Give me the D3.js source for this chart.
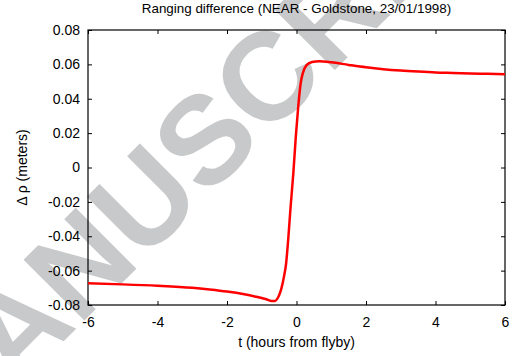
<!DOCTYPE html>
<head>
    <meta charset="utf-8">
    <title>Ranging difference</title>
    <style>
        body { margin: 0; background: #fff; }
        text { font-family: "Liberation Sans", Arial, sans-serif; }
    </style>
</head>
<body>
    <script src="https://d3js.org/d3.v7.min.js"></script>
    <script>

        // t in hours from flyby, delta rho in metres
        var hours = [-6, -5, -4, -3, -2.5, -2, -1.5, -1.2, -1, -0.85, -0.72, -0.62, -0.52, -0.44,
            -0.36, -0.3, -0.24, -0.17, -0.09, -0.02, 0.05, 0.12, 0.18, 0.29, 0.45, 0.65,
            1, 1.5, 2, 2.5, 3, 3.5, 4, 4.5, 5, 5.5, 6];
        var deltaRho = [-0.0674, -0.0680, -0.0688, -0.0700, -0.0710, -0.0722, -0.0738, -0.0750,
            -0.0759, -0.0768, -0.0776, -0.0776, -0.0752, -0.0708, -0.0635, -0.0560, -0.0422,
            -0.0230, -0.0030, 0.0180, 0.0354, 0.0490, 0.0548, 0.0596, 0.0614, 0.0618,
            0.0612, 0.0597, 0.0583, 0.0572, 0.0564, 0.0558, 0.0553, 0.0550, 0.0547, 0.0545, 0.0543];
        var xTicks = [-6, -4, -2, 0, 2, 4, 6];
        var yTicks = [-0.08, -0.06, -0.04, -0.02, 0, 0.02, 0.04, 0.06, 0.08];

        var titleText = 'Ranging difference (NEAR - Goldstone, 23/01/1998)';
        var xLabel = 't (hours from flyby)';
        var yLabel = '\u0394 \u03c1 (meters)';

        var margin = { top: 30, right: 11, bottom: 51, left: 88 },
            width = 516 - margin.left - margin.right,
            height = 356 - margin.top - margin.bottom;

        var data = hours.map(function (t, i) { return { t: t, v: deltaRho[i] }; });

        var svg0 = d3.select('body').append('svg')
            .attr('width', 516)
            .attr('height', 356);

        // grey watermark behind the plot
        svg0.append('text')
            .attr('transform', 'translate(-59,464) rotate(-45)')
            .style('font-size', '125px')
            .style('font-weight', 'bold')
            .attr('fill', '#c8c9ca')
            .text('MANUSCRIPT');

        var svg = svg0.append('g')
            .attr('transform', 'translate(' + margin.left + ',' + margin.top + ')');

        var x = d3.scaleLinear().domain([-6, 6]).range([0, width]);
        var y = d3.scaleLinear().domain([-0.08, 0.08]).range([height, 0]);

        var fmtY = function (d) {
            return d === 0 ? '0' : d3.format('.2f')(d).replace('\u2212', '-');
        };
        var fmtX = function (d) { return String(d); };

        // main axes
        svg.append('g')
            .attr('transform', 'translate(0,' + height + ')')
            .call(d3.axisBottom(x).tickValues(xTicks).tickSize(-4).tickPadding(12).tickFormat(fmtX));
        svg.append('g')
            .call(d3.axisLeft(y).tickValues(yTicks).tickSize(-4).tickPadding(8).tickFormat(fmtY));

        // mirrored ticks
        svg.append('g')
            .call(d3.axisTop(x).tickValues(xTicks).tickSize(-4).tickFormat(''));
        svg.append('g')
            .attr('transform', 'translate(' + width + ',0)')
            .call(d3.axisRight(y).tickValues(yTicks).tickSize(-4).tickFormat(''));

        svg.selectAll('.domain').remove();
        svg.selectAll('.tick line').attr('stroke', '#000');
        svg.selectAll('.tick text')
            .style('font-size', '14px')
            .style('font-family', '"Liberation Sans", Arial, sans-serif')
            .attr('fill', '#000');

        svg.append('rect')
            .attr('width', width)
            .attr('height', height)
            .attr('fill', 'none')
            .attr('stroke', '#000')
            .attr('stroke-width', 1.2);

        var line = d3.line()
            .x(function (d) { return x(d.t); })
            .y(function (d) { return y(d.v); })
            .curve(d3.curveMonotoneX);

        svg.append('path')
            .datum(data)
            .attr('d', line)
            .attr('fill', 'none')
            .attr('stroke', '#ff0000')
            .attr('stroke-width', 2.5);

        svg0.append('text')
            .attr('x', margin.left + width / 2)
            .attr('y', 13)
            .attr('text-anchor', 'middle')
            .style('font-size', '13.4px')
            .text(titleText);

        svg0.append('text')
            .attr('x', margin.left + width / 2)
            .attr('y', 347)
            .attr('text-anchor', 'middle')
            .style('font-size', '14px')
            .text(xLabel);

        svg0.append('text')
            .attr('transform', 'translate(27,' + (margin.top + height / 2) + ') rotate(-90)')
            .attr('text-anchor', 'middle')
            .style('font-size', '14px')
            .text(yLabel);

    </script>
</body>
